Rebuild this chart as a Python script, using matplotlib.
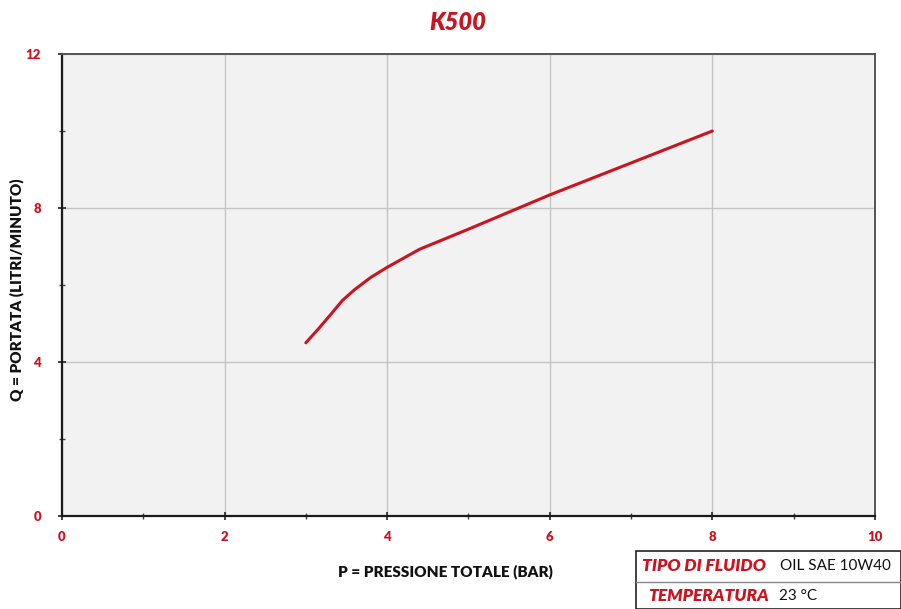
"""K500 pump curve: flow rate vs total pressure."""

import matplotlib

matplotlib.use("Agg")
import matplotlib.pyplot as plt
from matplotlib.patches import Rectangle
from matplotlib.lines import Line2D

RED = "#cc1420"
FONT = ["Lato", "DejaVu Sans"]

# curve
pressure_bar = [3.0, 3.15, 3.3, 3.45, 3.6, 3.8, 4.0, 4.4, 5.0, 6.0, 7.0, 8.0]
flow_lpm = [4.5, 4.85, 5.22, 5.6, 5.88, 6.2, 6.46, 6.93, 7.45, 8.34, 9.17, 10.0]

x_major = [0, 2, 4, 6, 8, 10]
y_major = [0, 4, 8, 12]
x_minor = [1, 3, 5, 7, 9]
y_minor = [2, 6, 10]

info_rows = [("TIPO DI FLUIDO", "OIL SAE 10W40"), ("TEMPERATURA", "23 °C")]

plt.rcParams["font.family"] = FONT

fig = plt.figure(figsize=(9.01, 6.09), dpi=100)
ax = fig.add_axes([0.0688, 0.1527, 0.9022, 0.7586])
ax.set_facecolor("#f2f2f2")

ax.plot(pressure_bar, flow_lpm, color=RED, linewidth=2.2,
        solid_capstyle="round", solid_joinstyle="round")

ax.set_xlim(0, 10)
ax.set_ylim(0, 12)
ax.set_xticks(x_major)
ax.set_yticks(y_major)
ax.set_xticks(x_minor, minor=True)
ax.set_yticks(y_minor, minor=True)
ax.grid(True, which="major", color="#c4c4c4", linewidth=1.0)
ax.set_axisbelow(True)

ax.tick_params(which="major", direction="inout", length=6, width=1.2,
               color="#222222", labelcolor=RED, labelsize=9.5, pad=8)
ax.tick_params(which="minor", direction="inout", length=4, width=1.0,
               color="#444444")
for lbl in ax.get_xticklabels() + ax.get_yticklabels():
    lbl.set_fontweight("heavy")
ax.tick_params(axis="y", pad=12)

for side in ("left", "bottom"):
    ax.spines[side].set_color("#1a1a1a")
    ax.spines[side].set_linewidth(1.6)
for side in ("top", "right"):
    ax.spines[side].set_color("#555555")
    ax.spines[side].set_linewidth(1.4)

ax.set_xlabel("P = PRESSIONE TOTALE (BAR)", fontsize=11, fontweight="heavy",
              color="#111111")
ax.set_ylabel("Q = PORTATA (LITRI/MINUTO)", fontsize=11, fontweight="heavy",
              color="#111111")
ax.xaxis.set_label_coords(0.472, -0.105)
ax.yaxis.set_label_coords(-0.047, 0.49)

fig.text(0.508, 0.963, "K500", color=RED, fontsize=17, fontweight="heavy",
         fontstyle="italic", ha="center", va="center")

# info table, bottom right
x0 = 636 / 901
top = 58 / 609
fig.patches.append(Rectangle((x0, 0), 1 - x0, top, transform=fig.transFigure,
                             facecolor="white", edgecolor="#222222",
                             linewidth=1.2, zorder=5))
fig.lines.append(Line2D([x0, 1], [top - 31 / 609, top - 31 / 609],
                        transform=fig.transFigure, color="#888888",
                        linewidth=1.0, zorder=6))
label_x = [642 / 901, 648 / 901]
value_x = [780 / 901, 779 / 901]
row_y = [566, 596]
for (label, value), lx, vx, py in zip(info_rows, label_x, value_x, row_y):
    yy = 1 - py / 609
    fig.text(lx, yy, label, color=RED, fontsize=12.5, fontweight="heavy",
             fontstyle="italic", ha="left", va="center", zorder=7)
    fig.text(vx, yy, value, color="#111111", fontsize=11, ha="left",
             va="center", zorder=7)

fig.savefig("out.png", dpi=100)
